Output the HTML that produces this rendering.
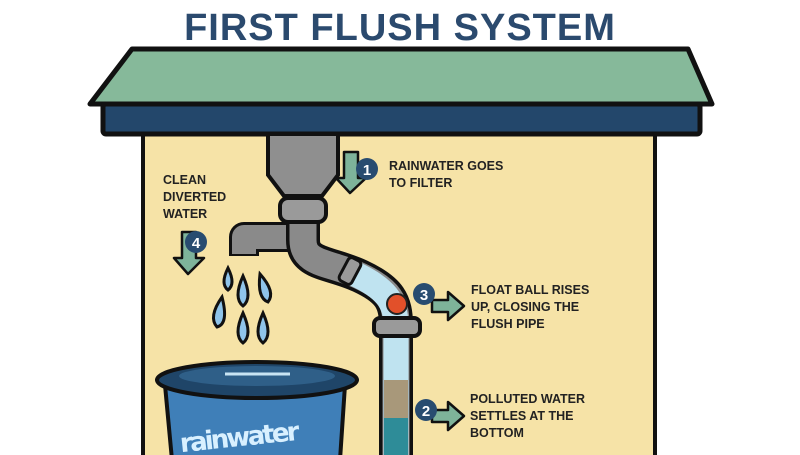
<!DOCTYPE html>
<html><head><meta charset="utf-8"><style>
html,body{margin:0;padding:0;background:#fff}
svg{display:block}
text{font-family:"Liberation Sans",sans-serif;font-weight:bold}
</style></head><body>
<svg width="800" height="455" viewBox="0 0 800 455" xmlns="http://www.w3.org/2000/svg">
<rect width="800" height="455" fill="#fff"/>
<text x="400" y="40" text-anchor="middle" font-size="38" fill="#2b4a6e" letter-spacing="1">FIRST FLUSH SYSTEM</text>
<!-- wall -->
<rect x="143" y="125" width="512" height="335" fill="#f6e3a7" stroke="#111" stroke-width="4"/>
<!-- roof -->
<polygon points="132,49 688,49 712,104 90,104" fill="#86b99a" stroke="#111" stroke-width="5" stroke-linejoin="round"/>
<rect x="103" y="104" width="597" height="30" rx="3" fill="#23476b" stroke="#111" stroke-width="5"/>
<!-- barrel -->
<path d="M165 385 L345 385 L340 460 L172 460 Z" fill="#3f7fb8" stroke="#111" stroke-width="4"/>
<ellipse cx="257" cy="380" rx="100" ry="18" fill="#1f4568" stroke="#111" stroke-width="4"/>
<ellipse cx="257" cy="376" rx="78" ry="10" fill="#2f5f88"/>
<path d="M225 374 L290 374" stroke="#c8e4f3" stroke-width="3"/>
<text x="180" y="445" font-size="26" fill="#d8f0ff" font-weight="normal" style="font-family:'DejaVu Sans',sans-serif" textLength="120" transform="rotate(-6 250 440)">rainwater</text>
<!-- drops -->
<g fill="#8fc4ea" stroke="#111" stroke-width="3">
<path d="M228 268 q-8 16 0 22 q8 -6 0 -22z"/>
<path d="M243 276 q-10 22 0 30 q10 -8 0 -30z"/>
<path d="M260 274 q-3 24 8 28 q8 -10 -8 -28z"/>
<path d="M222 297 q-14 20 -5 30 q12 -3 5 -30z"/>
<path d="M243 313 q-10 22 0 30 q10 -8 0 -30z"/>
<path d="M263 313 q-10 22 0 30 q10 -8 0 -30z"/>
</g>
<!-- funnel -->
<path d="M268 134 L338 134 L338 175 L322 196 L284 196 L268 175 Z" fill="#8f8f8f" stroke="#111" stroke-width="4"/>
<!-- spout -->
<path d="M300 237 L244 237 L244 256" fill="none" stroke="#111" stroke-width="30" stroke-linejoin="round"/>
<path d="M300 237 L244 237 L244 254" fill="none" stroke="#8a8a8a" stroke-width="24" stroke-linejoin="round"/>
<!-- pipe -->
<path d="M303 200 L303 240 C303 265 330 262 360 276 C390 290 396 302 396 325 L396 460" fill="none" stroke="#111" stroke-width="34"/>
<path d="M303 200 L303 240 C303 265 330 262 360 276 C390 290 396 302 396 325 L396 460" fill="none" stroke="#8a8a8a" stroke-width="27"/>
<!-- clear section -->
<path d="M355 274 C385 288 396 302 396 325 L396 460" fill="none" stroke="#bfe3f0" stroke-width="25"/>
<rect x="384" y="380" width="24" height="40" fill="#a8987a"/>
<rect x="384" y="418" width="24" height="42" fill="#2e8c98"/>
<circle cx="397" cy="304" r="10" fill="#e2502a" stroke="#222" stroke-width="2"/>
<!-- collars -->
<rect x="280" y="198" width="46" height="24" rx="8" fill="#9a9a9a" stroke="#111" stroke-width="4"/>
<rect x="374" y="318" width="46" height="18" rx="6" fill="#9a9a9a" stroke="#111" stroke-width="4"/>
<rect x="343" y="258" width="14" height="26" rx="4" fill="#9a9a9a" stroke="#111" stroke-width="3" transform="rotate(28 350 271)"/>
<!-- arrows -->
<g fill="#7eb39a" stroke="#111" stroke-width="2.5" stroke-linejoin="round">
<path d="M344 152 L358 152 L358 178 L366 178 L350 193 L336 178 L344 178 Z"/>
<path d="M182 232 L196 232 L196 258 L204 258 L188 274 L174 258 L182 258 Z"/>
<path d="M432 300 L448 300 L448 292 L464 306 L448 320 L448 312 L432 312 Z"/>
<path d="M432 410 L448 410 L448 402 L464 416 L448 430 L448 422 L432 422 Z"/>
</g>
<g fill="#284c70">
<circle cx="367" cy="169" r="11"/><circle cx="196" cy="242" r="11"/>
<circle cx="424" cy="294" r="11"/><circle cx="426" cy="410" r="11"/>
</g>
<g fill="#fff" font-size="15" text-anchor="middle">
<text x="367" y="175">1</text><text x="196" y="248">4</text>
<text x="424" y="300">3</text><text x="426" y="416">2</text>
</g>
<g fill="#222" font-size="12.5">
<text x="389" y="170">RAINWATER GOES</text><text x="389" y="187">TO FILTER</text>
<text x="163" y="184">CLEAN</text><text x="163" y="201">DIVERTED</text><text x="163" y="218">WATER</text>
<text x="471" y="294">FLOAT BALL RISES</text><text x="471" y="311">UP, CLOSING THE</text><text x="471" y="328">FLUSH PIPE</text>
<text x="470" y="403">POLLUTED WATER</text><text x="470" y="420">SETTLES AT THE</text><text x="470" y="437">BOTTOM</text>
</g>
</svg>
</body></html>
